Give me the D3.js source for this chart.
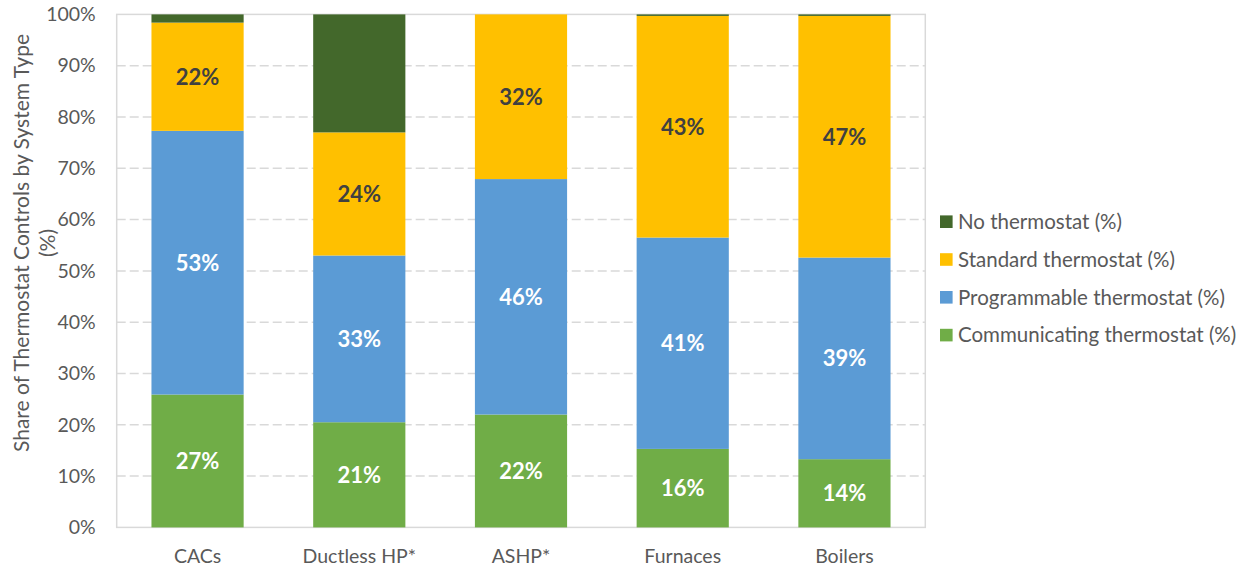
<!DOCTYPE html>
<html>
<head>
<meta charset="utf-8">
<script src="https://cdn.jsdelivr.net/npm/d3@7/dist/d3.min.js"></script>
<style>
  html, body { margin: 0; padding: 0; background: #fff; }
  svg { display: block; }
  text { font-family: Lato, "Open Sans", sans-serif; }
</style>
</head>
<body>
<svg id="chart" width="1249" height="570"></svg>
<script>
// ---- Data ----
const categories = ["CACs", "Ductless HP*", "ASHP*", "Furnaces", "Boilers"];
const seriesNames = ["Communicating thermostat (%)", "Programmable thermostat (%)", "Standard thermostat (%)", "No thermostat (%)"];
// bar segment heights (% of total)
const communicating = [25.9, 20.5, 22.0, 15.3, 13.3];
const programmable  = [51.4, 32.5, 45.9, 41.2, 39.3];
const standard      = [21.1, 24.0, 32.1, 43.2, 47.1];
const noThermostat  = [1.6, 23.0, 0.0, 0.3, 0.3];
// printed data labels
const communicatingLabels = [27, 21, 22, 16, 14];
const programmableLabels  = [53, 33, 46, 41, 39];
const standardLabels      = [22, 24, 32, 43, 47];
const yTicks = [0, 10, 20, 30, 40, 50, 60, 70, 80, 90, 100];
const yTitleLines = ["Share of Thermostat Controls by System Type", "(%)"];

const colors = ["#70AD47", "#5B9BD5", "#FFC000", "#43682B"];
const labelColors = ["#ffffff", "#ffffff", "#404040", null];
const seriesValues = [communicating, programmable, standard, noThermostat];
const seriesLabels = [communicatingLabels, programmableLabels, standardLabels, null];

// ---- Layout ----
const svg = d3.select("#chart");
const plot = { left: 116.7, right: 925.3, top: 14.4, bottom: 527.4 };

const x = d3.scaleBand()
  .domain(categories)
  .range([plot.left, plot.right])
  .paddingInner(0.43)
  .paddingOuter(0.215);

const y = d3.scaleLinear().domain([0, 100]).range([plot.bottom, plot.top]);

// table for stack
const table = categories.map((c, i) => {
  const row = { category: c };
  seriesNames.forEach((s, k) => row[s] = seriesValues[k][i]);
  return row;
});
const stack = d3.stack().keys(seriesNames)(table);

// gridlines
svg.append("g")
  .selectAll("line")
  .data(yTicks.filter(t => t > 0 && t < 100))
  .join("line")
  .attr("x1", plot.left).attr("x2", plot.right)
  .attr("y1", d => y(d)).attr("y2", d => y(d))
  .attr("stroke", "#d9d9d9")
  .attr("stroke-width", 1.5)
  .attr("stroke-dasharray", "9,4");

// plot frame
svg.append("rect")
  .attr("x", plot.left).attr("y", plot.top)
  .attr("width", plot.right - plot.left)
  .attr("height", plot.bottom - plot.top)
  .attr("fill", "none")
  .attr("stroke", "#d9d9d9")
  .attr("stroke-width", 1.5);

// bars
const layers = svg.append("g").selectAll("g")
  .data(stack)
  .join("g")
  .attr("fill", (d, k) => colors[k]);

layers.selectAll("rect")
  .data(d => d)
  .join("rect")
  .attr("x", d => x(d.data.category))
  .attr("width", x.bandwidth())
  .attr("y", d => y(d[1]))
  .attr("height", d => Math.max(0, y(d[0]) - y(d[1])));

// data labels
stack.forEach((layer, k) => {
  if (!seriesLabels[k]) return;
  svg.append("g").selectAll("text")
    .data(layer)
    .join("text")
    .attr("x", d => x(d.data.category) + x.bandwidth() / 2)
    .attr("y", d => y((d[0] + d[1]) / 2))
    .attr("dy", "0.36em")
    .attr("text-anchor", "middle")
    .attr("font-size", 22)
    .attr("font-weight", "bold")
    .attr("fill", labelColors[k])
    .text((d, i) => seriesLabels[k][i] + "%");
});

// y axis tick labels
const yAxis = d3.axisLeft(y).tickValues(yTicks).tickFormat(d => d + "%").tickSize(0).tickPadding(21);
const gy = svg.append("g").attr("transform", `translate(${plot.left},0)`).call(yAxis);
gy.select(".domain").remove();
gy.selectAll("text").attr("font-size", 19.5).attr("fill", "#595959").attr("font-family", "Lato, sans-serif");

// x axis labels
const xAxis = d3.axisBottom(x).tickSize(0).tickPadding(22);
const gx = svg.append("g").attr("transform", `translate(0,${plot.bottom})`).call(xAxis);
gx.select(".domain").remove();
gx.selectAll("text").attr("font-size", 19.5).attr("fill", "#595959").attr("font-family", "Lato, sans-serif");

// y title
const yTitle = svg.append("text")
  .attr("transform", "translate(21,243) rotate(-90)")
  .attr("text-anchor", "middle")
  .attr("font-size", 21)
  .attr("fill", "#595959");
yTitleLines.forEach((t, i) => {
  yTitle.append("tspan").attr("x", 0).attr("dy", i === 0 ? "0.36em" : 26).text(t);
});

// legend
const legendOrder = [3, 2, 1, 0];
const lg = svg.append("g").selectAll("g")
  .data(legendOrder)
  .join("g")
  .attr("transform", (k, i) => `translate(940,${221.7 + i * 37.8})`);
lg.append("rect")
  .attr("x", 0).attr("y", -6.3)
  .attr("width", 12.6).attr("height", 12.6)
  .attr("fill", k => colors[k]);
lg.append("text")
  .attr("x", 18).attr("y", 0).attr("dy", "0.36em")
  .attr("font-size", 20.5)
  .attr("fill", "#595959")
  .text(k => seriesNames[k]);
</script>
</body>
</html>
